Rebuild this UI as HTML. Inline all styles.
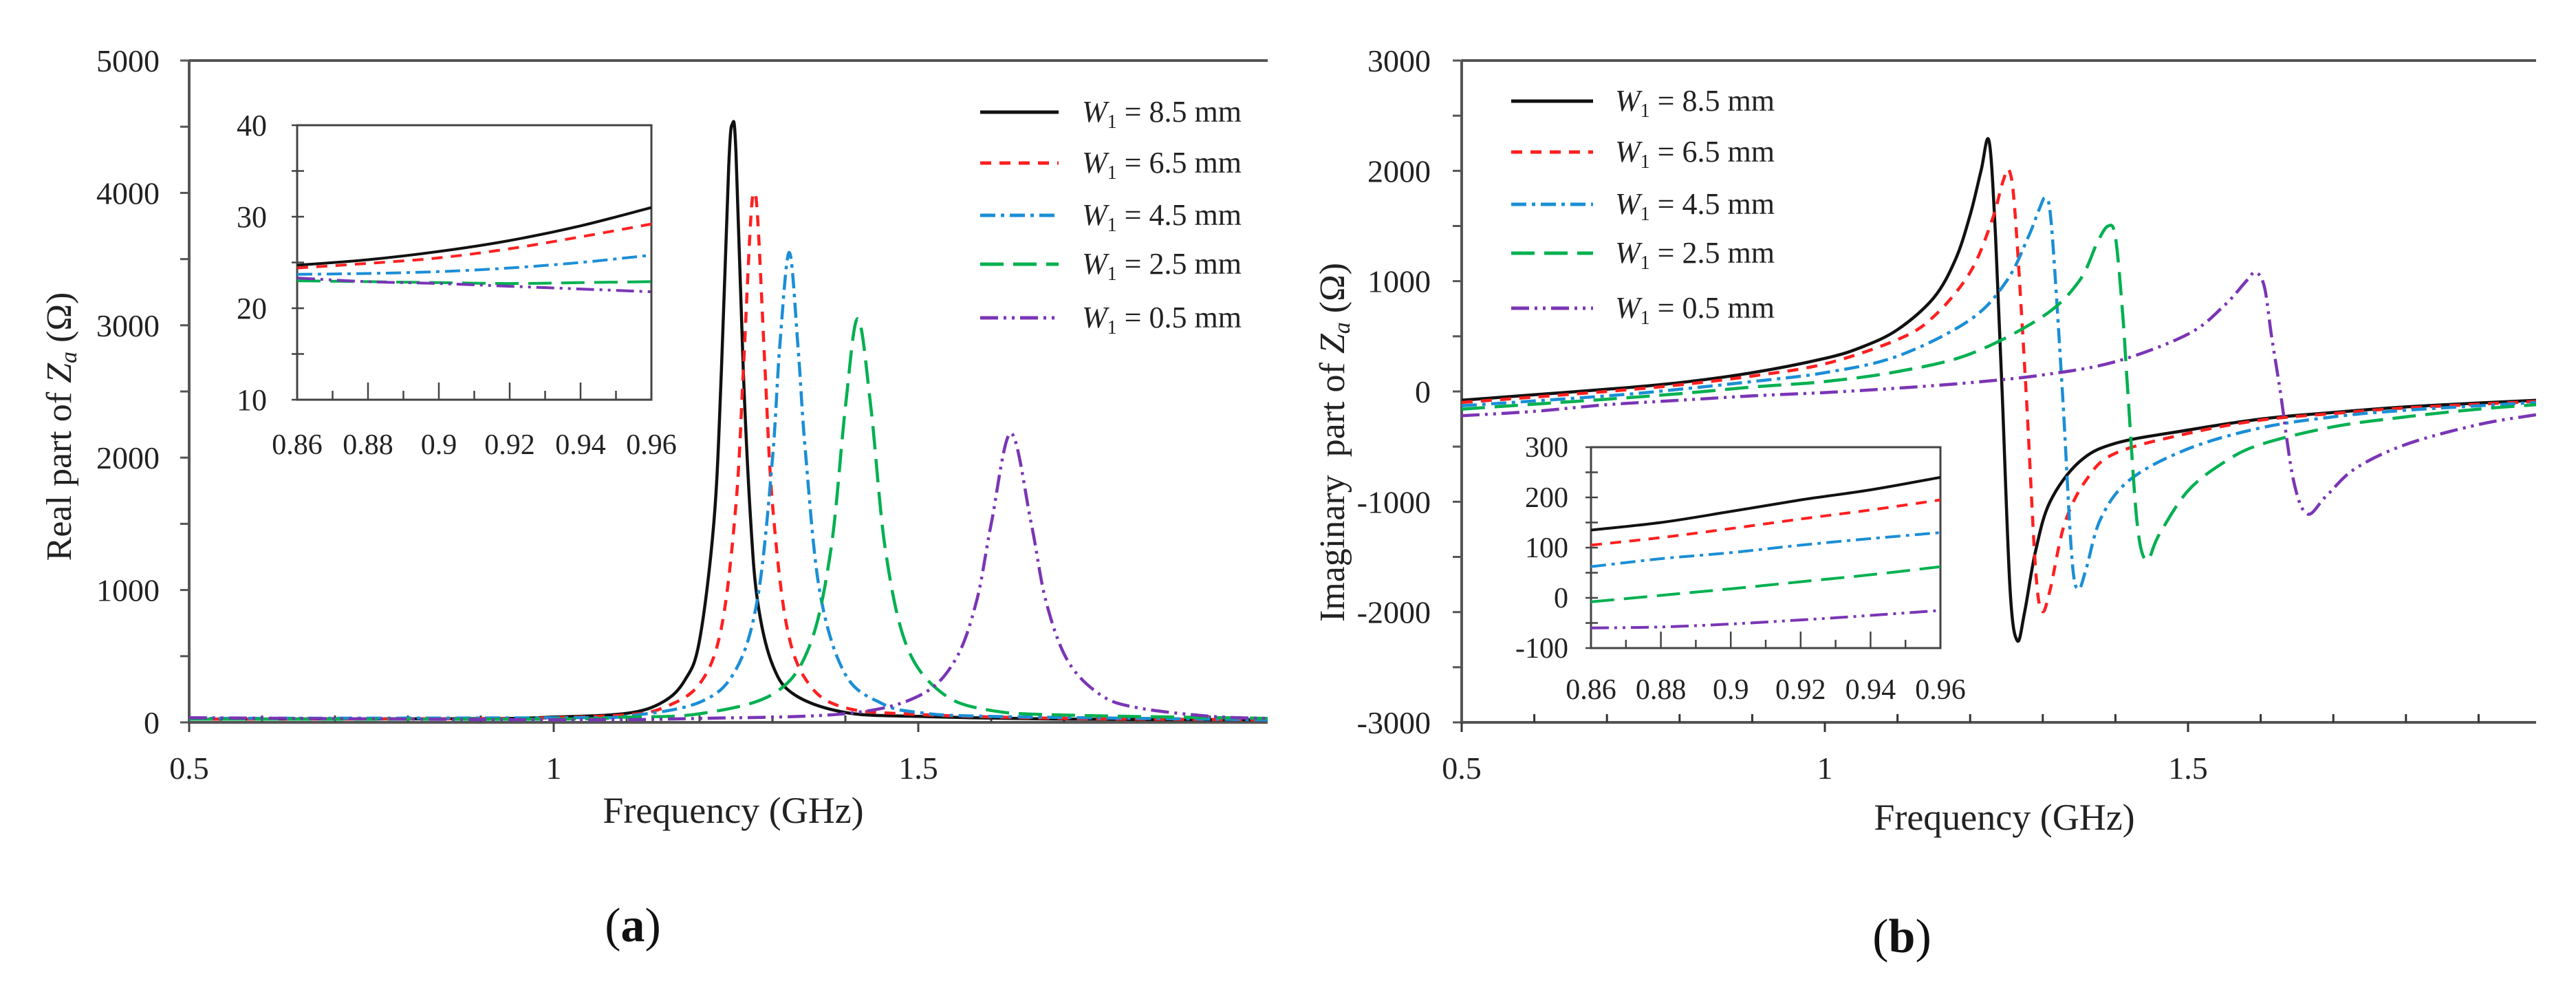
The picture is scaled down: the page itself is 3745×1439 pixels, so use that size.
<!DOCTYPE html>
<html><head><meta charset="utf-8"><style>
html,body{margin:0;padding:0;background:#fff;}
svg{display:block;font-family:"Liberation Serif",serif;}
</style></head><body>
<svg id="fig" width="3745" height="1439" viewBox="0 0 3745 1439" xmlns="http://www.w3.org/2000/svg">
<rect x="0" y="0" width="3745" height="1439" fill="#fff"/>
<defs>
<clipPath id="clipA"><rect x="275" y="80" width="1568" height="975"/></clipPath>
<clipPath id="clipB"><rect x="2125" y="80" width="1562" height="975"/></clipPath>
<clipPath id="clipIA"><rect x="432" y="182" width="515" height="399"/></clipPath>
<clipPath id="clipIB"><rect x="2313" y="650" width="508" height="292"/></clipPath>
</defs>
<g id="panelA"></g>
<g id="panelB"></g>
</svg>
<script>
// ---------- data ----------
const seriesNames = ["W1 = 8.5 mm","W1 = 6.5 mm","W1 = 4.5 mm","W1 = 2.5 mm","W1 = 0.5 mm"];
const legendValues = ["8.5","6.5","4.5","2.5","0.5"];
const xTicksMain = [0.5,1,1.5];
const xTickLabelsMain = ["0.5","1","1.5"];
const yTicksA = [0,1000,2000,3000,4000,5000];
const yTicksB = [-3000,-2000,-1000,0,1000,2000,3000];
const xTicksInset = [0.86,0.88,0.9,0.92,0.94,0.96];
const xTickLabelsInset = ["0.86","0.88","0.9","0.92","0.94","0.96"];
const yTicksInsetA = [10,20,30,40];
const yTicksInsetB = [-100,0,100,200,300];

// Panel (a) real part: [frequency GHz, value Ω]
const realW85 = [[0.5,25],[0.9,28],[1.0,40],[1.1,68],[1.15,155],[1.18,320],[1.2,620],[1.22,1535],[1.23,2660],[1.24,4200],[1.245,4520],[1.25,4300],[1.26,2660],[1.27,1535],[1.28,900],[1.3,436],[1.33,210],[1.4,75],[1.5,45],[1.7,25],[1.98,20]];
const realW65 = [[0.5,25],[0.9,28],[1.0,35],[1.1,57],[1.15,110],[1.2,290],[1.23,715],[1.25,1650],[1.26,2650],[1.27,3780],[1.275,4000],[1.28,3780],[1.29,2650],[1.3,1650],[1.32,715],[1.35,290],[1.4,110],[1.5,60],[1.7,30],[1.98,20]];
const realW45 = [[0.5,30],[1.0,35],[1.1,48],[1.2,152],[1.25,400],[1.28,950],[1.3,1990],[1.31,2840],[1.323,3550],[1.335,2840],[1.345,2060],[1.365,985],[1.4,362],[1.45,143],[1.5,75],[1.6,45],[1.98,20]];
const realW25 = [[0.5,25],[1.0,25],[1.1,40],[1.2,65],[1.3,212],[1.35,565],[1.38,1300],[1.4,2380],[1.417,3050],[1.435,2380],[1.455,1300],[1.485,565],[1.535,212],[1.6,90],[1.7,55],[1.98,30]];
const realW05 = [[0.5,35],[1.0,20],[1.2,30],[1.4,66],[1.5,198],[1.55,465],[1.58,918],[1.6,1500],[1.627,2185],[1.655,1500],[1.675,918],[1.705,465],[1.75,208],[1.8,111],[1.9,46],[1.98,30]];
// inset (a)
const insetRealW85 = [[0.86,24.7],[0.88,25.3],[0.9,26.2],[0.92,27.4],[0.94,29.0],[0.96,31.0]];
const insetRealW65 = [[0.86,24.4],[0.88,24.9],[0.9,25.5],[0.92,26.5],[0.94,27.8],[0.96,29.2]];
const insetRealW45 = [[0.86,23.7],[0.88,23.8],[0.9,24.0],[0.92,24.4],[0.94,25.0],[0.96,25.8]];
const insetRealW25 = [[0.86,23.0],[0.88,22.9],[0.9,22.8],[0.92,22.7],[0.94,22.8],[0.96,22.9]];
const insetRealW05 = [[0.86,23.3],[0.88,22.9],[0.9,22.7],[0.92,22.4],[0.94,22.1],[0.96,21.8]];

// Panel (b) imaginary part
const imagW85 = [[0.5,-80],[0.6,-30],[0.7,20],[0.8,80],[0.9,170],[1.0,300],[1.05,400],[1.1,560],[1.15,850],[1.18,1200],[1.2,1600],[1.215,2000],[1.226,2270],[1.235,1400],[1.244,0],[1.255,-1800],[1.265,-2260],[1.275,-2000],[1.29,-1450],[1.31,-1000],[1.35,-640],[1.4,-470],[1.5,-350],[1.6,-250],[1.7,-190],[1.8,-140],[1.9,-105],[1.98,-80]];
const imagW65 = [[0.5,-100],[0.7,0],[0.8,60],[0.9,140],[1.0,250],[1.1,470],[1.15,680],[1.2,1080],[1.23,1550],[1.245,1900],[1.254,2000],[1.262,1600],[1.277,0],[1.29,-1600],[1.299,-1990],[1.31,-1800],[1.33,-1200],[1.36,-800],[1.4,-560],[1.5,-380],[1.6,-260],[1.7,-200],[1.8,-150],[1.98,-90]];
const imagW45 = [[0.5,-130],[0.7,-40],[0.8,20],[0.9,90],[1.0,170],[1.1,320],[1.2,650],[1.25,1000],[1.28,1400],[1.295,1650],[1.304,1750],[1.312,1500],[1.327,0],[1.34,-1500],[1.349,-1790],[1.36,-1600],[1.38,-1150],[1.42,-800],[1.5,-520],[1.6,-330],[1.7,-230],[1.8,-170],[1.98,-100]];
const imagW25 = [[0.5,-160],[0.7,-70],[0.8,-20],[0.9,40],[1.0,90],[1.1,180],[1.2,340],[1.3,680],[1.35,1000],[1.375,1350],[1.39,1500],[1.4,1400],[1.41,700],[1.417,0],[1.43,-1200],[1.443,-1530],[1.46,-1300],[1.5,-900],[1.55,-640],[1.6,-480],[1.7,-320],[1.8,-230],[1.9,-160],[1.98,-120]];
const imagW05 = [[0.5,-220],[0.6,-180],[0.7,-120],[0.8,-80],[0.9,-40],[1.0,-10],[1.1,30],[1.2,80],[1.3,150],[1.4,270],[1.5,520],[1.55,780],[1.58,1000],[1.593,1080],[1.605,950],[1.615,500],[1.627,0],[1.645,-800],[1.664,-1110],[1.69,-950],[1.73,-700],[1.8,-480],[1.9,-300],[1.98,-210]];
// inset (b)
const insetImagW85 = [[0.86,135],[0.88,150],[0.9,172],[0.92,195],[0.94,215],[0.96,240]];
const insetImagW65 = [[0.86,105],[0.88,120],[0.9,138],[0.92,157],[0.94,175],[0.96,195]];
const insetImagW45 = [[0.86,62],[0.88,78],[0.9,90],[0.92,105],[0.94,118],[0.96,130]];
const insetImagW25 = [[0.86,-8],[0.88,5],[0.9,18],[0.92,32],[0.94,46],[0.96,62]];
const insetImagW05 = [[0.86,-60],[0.88,-58],[0.9,-52],[0.92,-44],[0.94,-35],[0.96,-25]];

const colors = ["#111111","#ff1f1f","#1b8ed6","#00b050","#7a35b5"];
const dashes = ["none","16 12","22 8 5 8","34 14","26 8 4 8 4 8"];

// ---------- helpers ----------
const NS = "http://www.w3.org/2000/svg";
function mk(tag, attrs, parent){const e=document.createElementNS(NS,tag);for(const k in attrs)e.setAttribute(k,attrs[k]);parent.appendChild(e);return e;}
function scale(d0,d1,r0,r1){return v=>r0+(v-d0)/(d1-d0)*(r1-r0);}
function txt(parent,x,y,s,size,anchor,name){
  const t=mk("text",{x:x,y:y,"font-size":size,"text-anchor":anchor||"middle",fill:"#222"},parent);
  
  
  t.textContent=s;return t;
}
function smoothPath(pts){
  // Catmull-Rom through screen points
  let d="M"+pts[0][0].toFixed(1)+","+pts[0][1].toFixed(1);
  for(let i=0;i<pts.length-1;i++){
    const p0=pts[Math.max(0,i-1)],p1=pts[i],p2=pts[i+1],p3=pts[Math.min(pts.length-1,i+2)];
    const t=0.5/3;
    const c1x=p1[0]+(p2[0]-p0[0])*t, c1y=p1[1]+(p2[1]-p0[1])*t;
    const c2x=p2[0]-(p3[0]-p1[0])*t, c2y=p2[1]-(p3[1]-p1[1])*t;
    d+=` C${c1x.toFixed(1)},${c1y.toFixed(1)} ${c2x.toFixed(1)},${c2y.toFixed(1)} ${p2[0].toFixed(1)},${p2[1].toFixed(1)}`;
  }
  return d;
}
function drawSeries(parent,data,sx,sy,i,clip,width,prefix){
  const pts=data.map(p=>[sx(p[0]),sy(p[1])]);
  const p=mk("path",{d:smoothPath(pts),fill:"none",stroke:colors[i],"stroke-width":width,"stroke-dasharray":dashes[i],"clip-path":"url(#"+clip+")","stroke-linejoin":"round"},parent);
  
  
}
function legend(parent,x0,x1,tx,ys,prefix){
  ys.forEach((y,i)=>{
    const g=mk("g",{},parent);
    
    
    mk("line",{x1:x0,y1:y,x2:x1,y2:y,stroke:colors[i],"stroke-width":5,"stroke-dasharray":dashes[i]},g);
    const t=mk("text",{x:tx,y:y+14,"font-size":44,fill:"#222"},g);
    t.innerHTML='<tspan font-style="italic">W</tspan><tspan font-size="28" dy="9">1</tspan><tspan dy="-9"> = '+legendValues[i]+' mm</tspan>';
  });
}
function axisLines(g,x0,x1,yTop,yBot,name){
  const a=mk("path",{d:`M${x0},${yTop} V${yBot} H${x1} M${x0},${yTop} H${x1}`,fill:"none",stroke:"#555","stroke-width":4},g);
  
  
}

// ---------- panel (a) ----------
(function(){
  const g=document.getElementById("panelA");
  const sx=scale(0.5,1.0,275,805), sy=scale(0,5000,1050,88);
  const xEnd=1843;
  axisLines(g,275,xEnd,88,1050,"axes-a");
  for(let v=0;v<=5000;v+=500){mk("line",{x1:262,x2:275,y1:sy(v),y2:sy(v),stroke:"#555","stroke-width":3},g);}
  for(let k=0;k<=14;k++){const v=0.5+k*0.1;const x=sx(v);mk("line",{x1:x,x2:x,y1:1050,y2:(k%5==0)?1064:1040,stroke:"#444","stroke-width":3},g);}
  yTicksA.forEach(v=>txt(g,232,sy(v)+16,String(v),46,"end","y-tick-label-a"));
  xTicksMain.forEach((v,i)=>txt(g,sx(v),1132,xTickLabelsMain[i],46,"middle","x-tick-label-a"));
  txt(g,1066,1196,"Frequency (GHz)",54,"middle","x-axis-title-a");
  const yl=mk("text",{x:0,y:0,"font-size":52,"text-anchor":"middle",fill:"#222",transform:"translate(103,620) rotate(-90)"},g);
  
  
  yl.innerHTML='Real part of <tspan font-style="italic">Z</tspan><tspan font-style="italic" font-size="34" dy="8">a</tspan><tspan dy="-8"> (Ω)</tspan>';
  const cap=mk("text",{x:920,y:1368,"font-size":70,"text-anchor":"middle",fill:"#111"},g);
  
  
  cap.innerHTML='(<tspan font-weight="bold">a</tspan>)';
  [realW85,realW65,realW45,realW25,realW05].forEach((d,i)=>drawSeries(g,d,sx,sy,i,"clipA",4.5,"main-a"));
  legend(g,1425,1539,1573,[163,237,313,384,462],"a");
  // inset
  const ig=mk("g",{},g);
  
  
  const ix=scale(0.86,0.96,432,947), iy=scale(10,40,581,182);
  mk("rect",{x:432,y:182,width:515,height:399,fill:"#fff",stroke:"#444","stroke-width":3},ig);
  for(let v=10;v<=40;v+=5){mk("line",{x1:424,x2:442,y1:iy(v),y2:iy(v),stroke:"#444","stroke-width":2.5},ig);}
  for(let k=0;k<=10;k++){const x=ix(0.86+k*0.01);mk("line",{x1:x,x2:x,y1:581,y2:(k%2==0)?556:568,stroke:"#444","stroke-width":2.5},ig);}
  yTicksInsetA.forEach(v=>txt(ig,388,iy(v)+15,String(v),44,"end","inset-a-y-tick-label"));
  xTicksInset.forEach((v,i)=>txt(ig,ix(v),660,xTickLabelsInset[i],42,"middle","inset-a-x-tick-label"));
  [insetRealW85,insetRealW65,insetRealW45,insetRealW25,insetRealW05].forEach((d,i)=>drawSeries(ig,d,ix,iy,i,"clipIA",4,"inset-a"));
})();

// ---------- panel (b) ----------
(function(){
  const g=document.getElementById("panelB");
  const sx=scale(0.5,1.0,2125,2653), sy=scale(-3000,3000,1050,88);
  const xEnd=3687;
  axisLines(g,2125,xEnd,88,1050,"axes-b");
  for(let v=-3000;v<=3000;v+=500){mk("line",{x1:2112,x2:2125,y1:sy(v),y2:sy(v),stroke:"#555","stroke-width":3},g);}
  for(let k=0;k<=14;k++){const v=0.5+k*0.1;const x=sx(v);mk("line",{x1:x,x2:x,y1:1050,y2:(k%5==0)?1064:1038,stroke:"#333","stroke-width":3},g);}
  yTicksB.forEach(v=>txt(g,2080,sy(v)+16,String(v),46,"end","y-tick-label-b"));
  xTicksMain.forEach((v,i)=>txt(g,sx(v),1132,xTickLabelsMain[i],46,"middle","x-tick-label-b"));
  txt(g,2914,1206,"Frequency (GHz)",54,"middle","x-axis-title-b");
  const yl=mk("text",{x:0,y:0,"font-size":52,"text-anchor":"middle",fill:"#222",transform:"translate(1954,643) rotate(-90)"},g);
  
  
  yl.innerHTML='Imaginary&#160;&#160;part of <tspan font-style="italic">Z</tspan><tspan font-style="italic" font-size="34" dy="8">a</tspan><tspan dy="-8"> (Ω)</tspan>';
  const cap=mk("text",{x:2765,y:1384,"font-size":70,"text-anchor":"middle",fill:"#111"},g);
  
  
  cap.innerHTML='(<tspan font-weight="bold">b</tspan>)';
  [imagW85,imagW65,imagW45,imagW25,imagW05].forEach((d,i)=>drawSeries(g,d,sx,sy,i,"clipB",4.5,"main-b"));
  legend(g,2197,2316,2348,[147,221,297,368,448],"b");
  const ig=mk("g",{},g);
  
  
  const ix=scale(0.86,0.96,2313,2821), iy=scale(-100,300,942,650);
  mk("rect",{x:2313,y:650,width:508,height:292,fill:"#fff",stroke:"#444","stroke-width":3},ig);
  for(let v=-100;v<=300;v+=50){mk("line",{x1:2305,x2:2323,y1:iy(v),y2:iy(v),stroke:"#444","stroke-width":2.5},ig);}
  for(let k=0;k<=10;k++){const x=ix(0.86+k*0.01);mk("line",{x1:x,x2:x,y1:942,y2:(k%2==0)?918:930,stroke:"#444","stroke-width":2.5},ig);}
  yTicksInsetB.forEach(v=>txt(ig,2280,iy(v)+14,String(v),42,"end","inset-b-y-tick-label"));
  xTicksInset.forEach((v,i)=>txt(ig,ix(v),1016,xTickLabelsInset[i],42,"middle","inset-b-x-tick-label"));
  [insetImagW85,insetImagW65,insetImagW45,insetImagW25,insetImagW05].forEach((d,i)=>drawSeries(ig,d,ix,iy,i,"clipIB",4,"inset-b"));
})();
</script>
</body></html>
